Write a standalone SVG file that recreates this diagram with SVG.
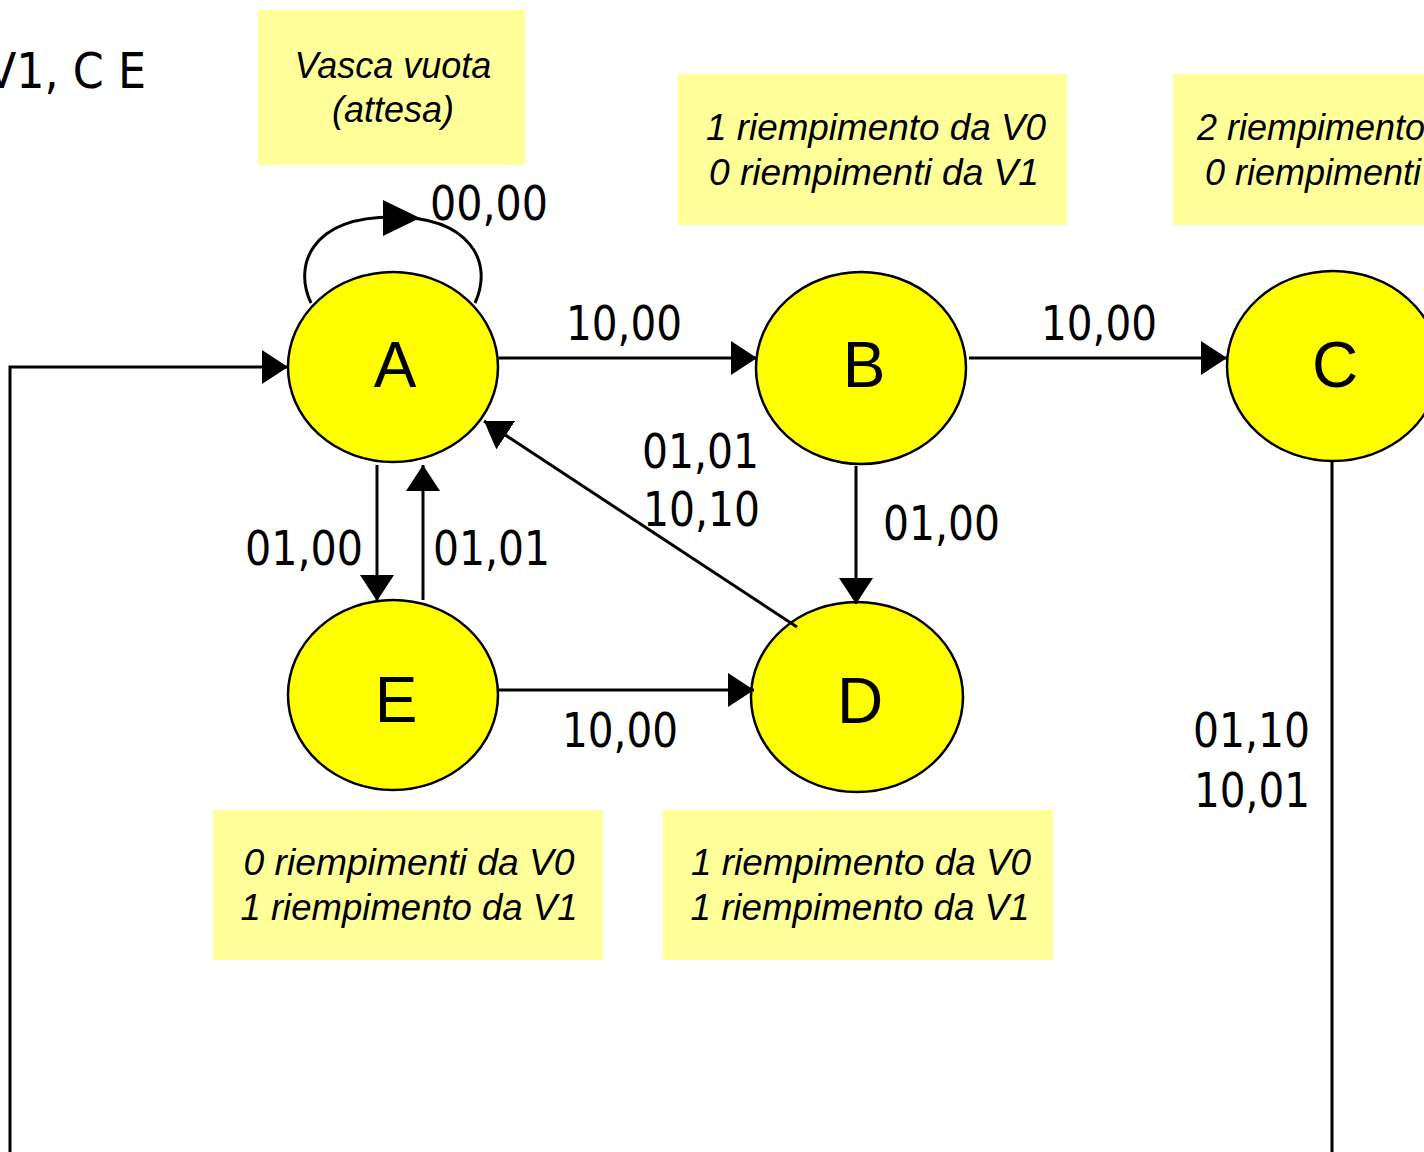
<svg xmlns="http://www.w3.org/2000/svg" width="1424" height="1152" viewBox="0 0 1424 1152">
<style>
.node{fill:#FFFF00;stroke:#000;stroke-width:2.5}
.note{fill:#FFFF99}
.nt{font-family:"Liberation Sans",Arial,sans-serif;font-style:italic;font-size:36px;fill:#000;text-anchor:middle}
.lt{font-family:"Liberation Sans",Arial,sans-serif;font-size:64px;fill:#000;text-anchor:middle}
.lb{font-family:"DejaVu Sans Condensed","DejaVu Sans",sans-serif;font-stretch:condensed;font-size:48px;fill:#000}
.ln{fill:none;stroke:#000;stroke-width:3}
</style>
<defs>
<marker id="ah" markerUnits="userSpaceOnUse" markerWidth="28" markerHeight="34" refX="26" refY="17" orient="auto" viewBox="0 0 28 34">
<path d="M0,0 L26,17 L0,34 z" fill="#000"/>
</marker>
</defs>
<rect width="1424" height="1152" fill="#fff"/>
<text x="-14" y="88" font-family="DejaVu Sans,sans-serif" font-size="50" textLength="160" lengthAdjust="spacingAndGlyphs" fill="#000">V1, C E</text>

<g id="notes">
<rect class="note" x="258" y="10" width="267" height="155"/>
<text class="nt" x="393" y="78">Vasca vuota</text>
<text class="nt" x="393" y="122">(attesa)</text>
<rect class="note" x="678" y="74" width="389" height="151"/>
<text class="nt" x="876" y="140" textLength="340" lengthAdjust="spacingAndGlyphs">1 riempimento da V0</text>
<text class="nt" x="874" y="185" textLength="330" lengthAdjust="spacingAndGlyphs">0 riempimenti da V1</text>
<rect class="note" x="1173" y="74" width="260" height="151"/>
<text class="nt" x="1197" y="140" style="text-anchor:start">2 riempimento</text>
<text class="nt" x="1205" y="185" style="text-anchor:start">0 riempimenti</text>
<rect class="note" x="213" y="810" width="390" height="150"/>
<text class="nt" x="409" y="875" textLength="331" lengthAdjust="spacingAndGlyphs">0 riempimenti da V0</text>
<text class="nt" x="409" y="920" textLength="337" lengthAdjust="spacingAndGlyphs">1 riempimento da V1</text>
<rect class="note" x="663" y="810" width="390" height="150"/>
<text class="nt" x="861" y="875" textLength="340" lengthAdjust="spacingAndGlyphs">1 riempimento da V0</text>
<text class="nt" x="860" y="920" textLength="339" lengthAdjust="spacingAndGlyphs">1 riempimento da V1</text>
</g>

<g id="node-A"><ellipse class="node" cx="393" cy="367" rx="105" ry="95"/><text class="lt" x="395" y="387">A</text></g>
<g id="node-B"><ellipse class="node" cx="861" cy="368" rx="105" ry="96"/><text class="lt" x="864" y="387">B</text></g>
<g id="node-C"><ellipse class="node" cx="1333" cy="366" rx="106" ry="95"/><text class="lt" x="1335" y="387">C</text></g>
<g id="node-E"><ellipse class="node" cx="393" cy="695" rx="105" ry="95"/><text class="lt" x="396" y="722">E</text></g>
<g id="node-D"><ellipse class="node" cx="857" cy="697" rx="106" ry="95"/><text class="lt" x="860" y="723">D</text></g>

<g id="connectors">
<path class="ln" d="M311,303 C294,268 308,217 393,217 C470,217 494,262 475,303"/>
<polygon points="383,200 383,236 420,218" fill="#000"/>
<line class="ln" x1="499" y1="358" x2="757" y2="358" marker-end="url(#ah)"/>
<line class="ln" x1="969" y1="358" x2="1227" y2="358" marker-end="url(#ah)"/>
<line class="ln" x1="856" y1="466" x2="856" y2="604" marker-end="url(#ah)"/>
<line class="ln" x1="377" y1="465" x2="377" y2="601" marker-end="url(#ah)"/>
<line class="ln" x1="423" y1="600" x2="423" y2="465" marker-end="url(#ah)"/>
<line class="ln" x1="497" y1="690" x2="754" y2="690" marker-end="url(#ah)"/>
<line class="ln" x1="797" y1="627" x2="484" y2="421" marker-end="url(#ah)"/>
<line class="ln" x1="1332" y1="462" x2="1332" y2="1152"/>
<path class="ln" d="M10,1152 V367 H288" marker-end="url(#ah)"/>
<text class="lb" x="430" y="220" textLength="118" lengthAdjust="spacingAndGlyphs">00,00</text>
<text class="lb" x="566" y="340" textLength="116" lengthAdjust="spacingAndGlyphs">10,00</text>
<text class="lb" x="1041" y="340" textLength="116" lengthAdjust="spacingAndGlyphs">10,00</text>
<text class="lb" x="642" y="468" textLength="117" lengthAdjust="spacingAndGlyphs">01,01</text>
<text class="lb" x="643" y="526" textLength="117" lengthAdjust="spacingAndGlyphs">10,10</text>
<text class="lb" x="245" y="565" textLength="118" lengthAdjust="spacingAndGlyphs">01,00</text>
<text class="lb" x="433" y="565" textLength="117" lengthAdjust="spacingAndGlyphs">01,01</text>
<text class="lb" x="883" y="540" textLength="117" lengthAdjust="spacingAndGlyphs">01,00</text>
<text class="lb" x="562" y="747" textLength="116" lengthAdjust="spacingAndGlyphs">10,00</text>
<text class="lb" x="1193" y="747" textLength="117" lengthAdjust="spacingAndGlyphs">01,10</text>
<text class="lb" x="1194" y="807" textLength="116" lengthAdjust="spacingAndGlyphs">10,01</text>
</g>
</svg>
